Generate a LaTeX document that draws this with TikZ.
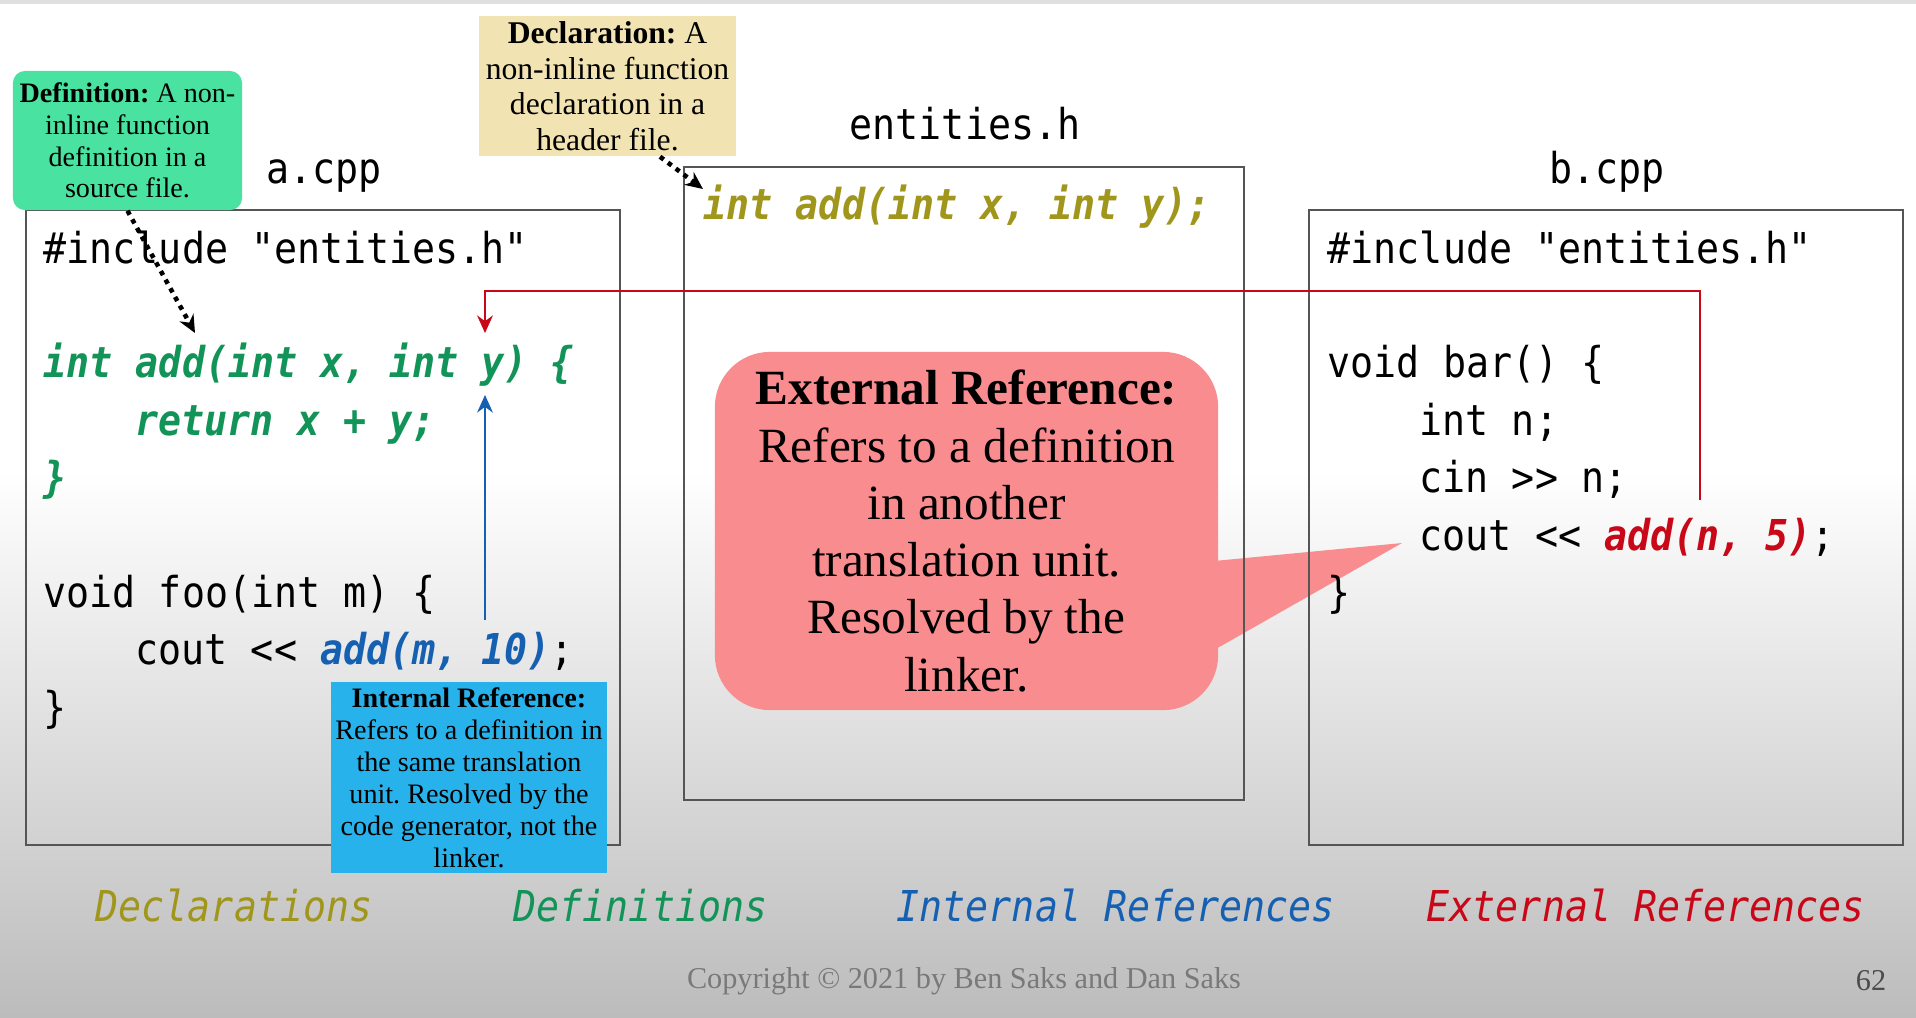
\documentclass[tikz,border=0pt]{standalone}
\usepackage{fontspec}
\setmainfont{Liberation Serif}
\setmonofont{DejaVu Sans Mono}[FakeStretch=0.9]
\usetikzlibrary{arrows.meta,positioning,calc}
\frenchspacing

\definecolor{declolive}{RGB}{160,150,28}
\definecolor{defgreen}{RGB}{18,148,88}
\definecolor{intblue}{RGB}{22,96,178}
\definecolor{extred}{RGB}{200,8,24}
\definecolor{defmint}{RGB}{74,226,160}
\definecolor{decltan}{RGB}{242,228,178}
\definecolor{intsky}{RGB}{40,178,236}
\definecolor{extpink}{RGB}{248,140,142}
\definecolor{boxgray}{RGB}{85,85,85}
\definecolor{bggray}{RGB}{188,188,188}

\tikzset{
  code/.style={font=\ttfamily\fontsize{12.1}{14}\selectfont, inner sep=0pt, anchor=base west},
  filetitle/.style={font=\ttfamily\fontsize{12.1}{14}\selectfont, inner sep=0pt, anchor=base},
  legend/.style={font=\ttfamily\itshape\fontsize{12.1}{14}\selectfont, inner sep=0pt, anchor=base west},
  filebox/.style={draw=boxgray, line width=0.55pt, inner sep=0pt},
  note/.style={align=center, inner sep=1pt},
  dotarrow/.style={line width=1.3pt, dash pattern=on 1.3pt off 1.5pt, -{Stealth[length=5pt,width=4.5pt]}},
  refarrow/.style={line width=0.5pt, -{Stealth[length=5pt,width=4.5pt]}},
}

\begin{document}
\begin{tikzpicture}[x=0.01cm,y=-0.01cm]
  \useasboundingbox (0,0) rectangle (1916,1017);

  % background
  \fill[white] (0,0) rectangle (1916,1017);
  \shade[top color=white, bottom color=bggray] (0,470) rectangle (1916,1017);
  \fill[gray!25] (0,0) rectangle (1916,4);

  % external reference callout (under the file boxes)
  \node[note, fill=extpink, rounded corners=0.55cm, minimum width=5.03cm, minimum height=3.58cm,
        font=\fontsize{14}{16.3}\selectfont] (extnote) at (966.5,531)
        {\textbf{External Reference:}\\Refers to a definition\\in another\\translation unit.\\Resolved by the\\linker.};
  \coordinate (exttip) at (1402,543);
  \fill[extpink] ([xshift=-0.05cm,yshift=-0.30cm]extnote.east) -- (exttip)
        -- ([xshift=-0.05cm,yshift=-1.19cm]extnote.east) -- cycle;

  % file boxes
  \node[filebox, minimum width=5.94cm, minimum height=6.35cm] (abox) at (323,527.5) {};
  \node[filebox, minimum width=5.60cm, minimum height=6.33cm] (hbox) at (964,483.5) {};
  \node[filebox, minimum width=5.94cm, minimum height=6.35cm] (bbox) at (1606,527.5) {};

  \node[filetitle] (atitle) at (324,183) {a.cpp};
  \node[filetitle] (htitle) at (965,139) {entities.h};
  \node[filetitle] (btitle) at (1607,183) {b.cpp};

  % a.cpp
  \node[code] (a0) at (43,263) {\#include "entities.h"};
  \node[code, text=defgreen, font=\ttfamily\bfseries\itshape\fontsize{12.1}{14}\selectfont] (a2) at (43,377.8) {int add(int x, int y) \{};
  \node[code, text=defgreen, font=\ttfamily\bfseries\itshape\fontsize{12.1}{14}\selectfont] (a3) at (135,435.2) {return x + y;};
  \node[code, text=defgreen, font=\ttfamily\bfseries\itshape\fontsize{12.1}{14}\selectfont] (a4) at (43,492.6) {\}};
  \node[code] (a6) at (43,607.4) {void foo(int m) \{};
  \node[code] (a7) at (135,664.8) {cout << \textcolor{intblue}{\bfseries\itshape add(m, 10)};};
  \node[code] (a8) at (43,722.2) {\}};

  % entities.h
  \node[code, text=declolive, font=\ttfamily\bfseries\itshape\fontsize{12.1}{14}\selectfont] (h0) at (703,219) {int add(int x, int y);};

  % b.cpp
  \node[code] (b0) at (1327,263) {\#include "entities.h"};
  \node[code] (b2) at (1327,377.8) {void bar() \{};
  \node[code] (b3) at (1419,435.2) {int n;};
  \node[code] (b4) at (1419,492.6) {cin >> n;};
  \node[code] (b5) at (1419,550) {cout << \textcolor{extred}{\bfseries\itshape add(n, 5)};};
  \node[code] (b6) at (1327,607.4) {\}};

  % references
  \coordinate (extsrc) at (1700,500);
  \coordinate (extbend) at (485,291);
  \coordinate (ytip) at (485,333);
  \draw[refarrow, extred] (extsrc) |- (extbend) -- (ytip);

  \coordinate (intsrc) at (485,620);
  \coordinate (ytail) at (485,395);
  \draw[refarrow, intblue] (intsrc) -- (ytail);

  % notes
  \node[note, fill=defmint, rounded corners=0.12cm, minimum width=2.29cm, minimum height=1.39cm,
        font=\fontsize{8}{9.05}\selectfont] (defnote) at (127.5,140.5)
        {\textbf{Definition:} A non-\\inline function\\definition in a\\source file.};
  \node[note, fill=decltan, minimum width=2.57cm, minimum height=1.40cm,
        font=\fontsize{9}{10.1}\selectfont] (declnote) at (607.5,86)
        {\textbf{Declaration:} A\\non-inline function\\declaration in a\\header file.};
  \node[note, fill=intsky, minimum width=2.76cm, minimum height=1.91cm,
        font=\fontsize{8}{9.1}\selectfont] (intnote) at (469,777.5)
        {\textbf{Internal Reference:}\\Refers to a definition in\\the same translation\\unit. Resolved by the\\code generator, not the\\linker.};

  \coordinate (deftip) at (195,333);
  \coordinate (decltip) at (703,189);
  \draw[dotarrow] (defnote.south) -- (deftip);
  \draw[dotarrow] ([xshift=0.525cm]declnote.south) -- (decltip);

  % legend
  \node[legend, text=declolive] (ldecl) at (95,921) {Declarations};
  \node[legend, text=defgreen] (ldef) at (513,921) {Definitions};
  \node[legend, text=intblue] (lint) at (896,921) {Internal References};
  \node[legend, text=extred] (lext) at (1426,921) {External References};

  \node[text=gray!95!black, font=\fontsize{8.6}{10}\selectfont, inner sep=0pt] (copyright) at (964,981)
        {Copyright \textcopyright{} 2021 by Ben Saks and Dan Saks};
  \node[text=gray!60!black, font=\fontsize{8.6}{10}\selectfont, inner sep=0pt] (pagenum) at (1871,981) {62};
\end{tikzpicture}
\end{document}
